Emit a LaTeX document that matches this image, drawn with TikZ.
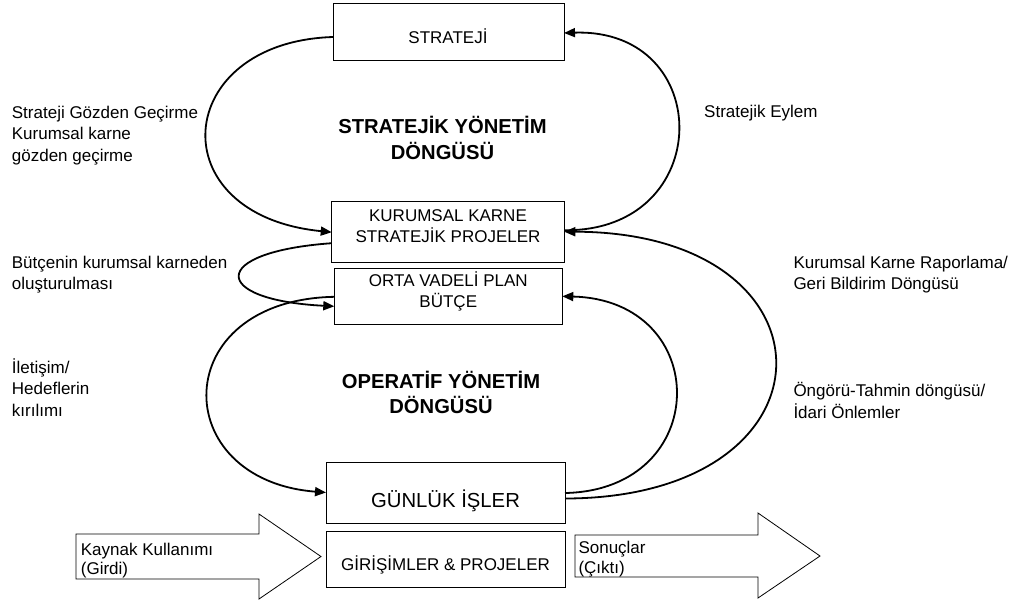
\documentclass[tikz,border=0pt]{standalone}
\usepackage{fontspec}
\setmainfont{Liberation Sans}
\usetikzlibrary{arrows.meta}
% multi-line labels aligned on the baseline of their first line
\newcommand{\linesL}[1]{\begin{tabular}[t]{@{}l@{}}#1\end{tabular}}
\newcommand{\linesC}[1]{\begin{tabular}[t]{@{}c@{}}#1\end{tabular}}

\begin{document}
\begin{tikzpicture}[x=1pt,y=-1pt,
  blk/.style={draw, line width=1pt, inner sep=0pt, outer sep=0pt},
  conn/.style={line width=1.8pt, -{Triangle[length=11pt,width=9pt]}},
  bigarrow/.style={draw, line width=0.8pt, fill=white, line join=miter},
  lbl/.style={font=\fontsize{17}{21.6}\selectfont, inner sep=0pt, anchor=base west},
  boxtxt/.style={font=\fontsize{17}{20.3}\selectfont, inner sep=0pt, anchor=base},
  bigtxt/.style={font=\fontsize{20.3}{24}\selectfont, inner sep=0pt, anchor=base},
  cycletxt/.style={font=\fontsize{20.2}{25.8}\selectfont\bfseries, inner sep=0pt, anchor=base},
  arrtxt/.style={font=\fontsize{17}{19.8}\selectfont, inner sep=0pt, anchor=base west}]

\useasboundingbox[fill=white] (0,0) rectangle (1016,603);

% boxes
\node[blk, minimum width=231pt, minimum height=57pt] (st) at (448.5,31.5) {};
\node[blk, minimum width=232.5pt, minimum height=61pt] (kk) at (448,232.2) {};
\node[blk, minimum width=228pt, minimum height=56pt] (ov) at (448.3,296.3) {};
\node[blk, minimum width=239pt, minimum height=61pt] (gl) at (445.5,492.5) {};
\node[blk, minimum width=239pt, minimum height=56pt] (gp) at (445.5,559) {};

% box texts
\node[boxtxt] (stT) at (448,43.3) {STRATEJİ};
\node[boxtxt] (kkT) at (448,221.7) {\linesC{KURUMSAL KARNE\\STRATEJİK PROJELER}};
\node[boxtxt] (ovT) at (448.3,286.7) {\linesC{ORTA VADELİ PLAN\\BÜTÇE}};
\node[bigtxt] (glT) at (445.5,507.7) {GÜNLÜK İŞLER};
\node[boxtxt] (gpT) at (445.5,570.7) {GİRİŞİMLER \& PROJELER};

% cycle titles
\node[cycletxt] (smT) at (442.5,133.3) {\linesC{STRATEJİK YÖNETİM\\DÖNGÜSÜ}};
\node[cycletxt] (omT) at (441,388) {\linesC{OPERATİF YÖNETİM\\DÖNGÜSÜ}};

% strategic cycle
\draw[conn] ([yshift=-5.5pt]st.west) .. controls (172,42) and (158,215) .. (kk.west);
\draw[conn] ([yshift=2pt]kk.east) .. controls (716,232) and (716,28) .. ([yshift=-1.5pt]st.east);

% scorecard to budget
\draw[conn] ([yshift=-11pt]kk.west) .. controls (208,252) and (210,300) .. ([yshift=-10pt]ov.west);

% operational cycle
\draw[conn] ([yshift=-0.5pt]ov.west) .. controls (167,300) and (167,480) .. (gl.west);
\draw[conn] ([yshift=-0.5pt]gl.east) .. controls (713,490) and (713,300) .. (ov.east);

% reporting / feedback loop
\draw[conn] ([yshift=-6pt]gl.east) .. controls (845,498) and (845,232) .. ([yshift=0.5pt]kk.east);

% input and output arrows
\draw[bigarrow] (76,534) -- (259,534) -- (259,514) -- (321,556.5) -- (259,599) -- (259,579) -- (76,579) -- cycle;
\draw[bigarrow] (575,535) -- (758,535) -- (758,513) -- (820,556) -- (758,598) -- (758,577) -- (575,577) -- cycle;
\node[arrtxt] (inT) at (80.7,555) {\linesL{Kaynak Kullanımı\\(Girdi)}};
\node[arrtxt] (outT) at (578.3,553.3) {\linesL{Sonuçlar\\(Çıktı)}};

% side labels
\node[lbl] (l1) at (11.7,118.3) {\linesL{Strateji Gözden Geçirme\\Kurumsal karne\\gözden geçirme}};
\node[lbl] (l2) at (11.7,268.3) {\linesL{Bütçenin kurumsal karneden\\oluşturulması}};
\node[lbl] (l3) at (11.7,373.3) {\linesL{İletişim/\\Hedeflerin\\kırılımı}};
\node[lbl] (r1) at (704,117.5) {Stratejik Eylem};
\node[lbl] (r2) at (793.3,268) {\linesL{Kurumsal Karne Raporlama/\\Geri Bildirim Döngüsü}};
\node[lbl] (r3) at (793.3,396.7) {\linesL{Öngörü-Tahmin döngüsü/\\İdari Önlemler}};

\end{tikzpicture}
\end{document}
